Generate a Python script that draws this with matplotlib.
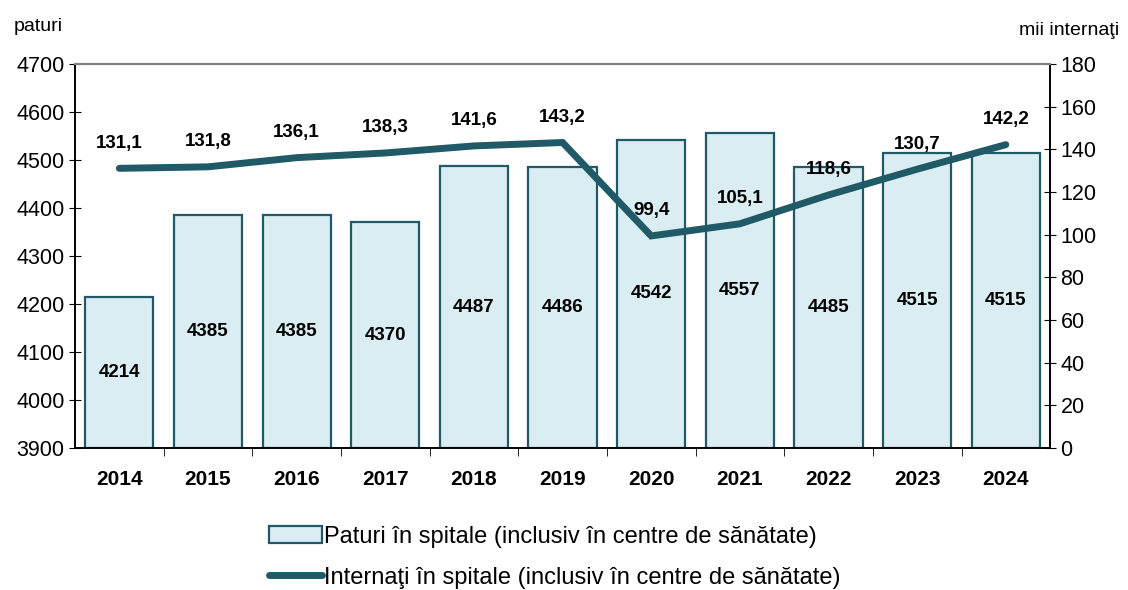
import numpy as np
import matplotlib.pyplot as plt

plt.rcParams['font.family'] = ['Liberation Sans', 'DejaVu Sans']

years = ['2014', '2015', '2016', '2017', '2018', '2019', '2020', '2021', '2022', '2023', '2024']
beds = [4214, 4385, 4385, 4370, 4487, 4486, 4542, 4557, 4485, 4515, 4515]
admitted = [131.1, 131.8, 136.1, 138.3, 141.6, 143.2, 99.4, 105.1, 118.6, 130.7, 142.2]

dark = '#1f5a66'
light = '#daedf3'

fig = plt.figure(figsize=(11.28, 5.9), dpi=100)
ax = fig.add_axes([0.0665, 0.2407, 0.8645, 0.6508])
ax2 = ax.twinx()

x = np.arange(len(years))
bars = ax.bar(x, [b - 3900 for b in beds], bottom=3900, width=0.77, color=light,
              edgecolor=dark, linewidth=1.6, label='Paturi în spitale (inclusiv în centre de sănătate)')
for xi, b in zip(x, beds):
    ax.text(xi, (3900 + b) / 2, str(b), ha='center', va='center', fontsize=13.5, fontweight='bold')

line, = ax2.plot(x, admitted, color=dark, linewidth=5, solid_joinstyle='miter', solid_capstyle='round',
                 label='Internaţi în spitale (inclusiv în centre de sănătate)')
for xi, v in zip(x, admitted):
    ax2.annotate(f'{v:.1f}'.replace('.', ','), (xi, v), xytext=(0, 18), textcoords='offset points',
                 ha='center', va='center', fontsize=13.5, fontweight='bold')

ax.set_xlim(-0.5, len(years) - 0.5)
ax.set_ylim(3900, 4700)
ax.set_yticks(range(3900, 4701, 100))
ax2.set_ylim(0, 180)
ax2.set_yticks(range(0, 181, 20))
ax.set_xticks(x)
ax.set_xticklabels(years, fontweight='bold', fontsize=15)
ax.set_xticks(np.arange(0.5, len(years) - 1, 1), minor=True)
ax.tick_params(axis='x', which='major', length=0, pad=16)
ax.tick_params(axis='x', which='minor', length=6, direction='out')
ax.tick_params(axis='y', direction='inout', length=8, labelsize=15.5)
ax2.tick_params(axis='y', direction='inout', length=8, labelsize=15.5)

for a in (ax, ax2):
    a.spines['top'].set_color('#808080')
    a.spines['top'].set_linewidth(1.5)
    a.spines['left'].set_linewidth(1.2)
    a.spines['right'].set_linewidth(1.2)
    a.spines['bottom'].set_linewidth(1.2)

fig.text(0.012, 0.955, 'paturi', fontsize=14, ha='left', va='center')
fig.text(0.992, 0.948, 'mii internaţi', fontsize=14, ha='right', va='center')

fig.legend(handles=[bars, line], loc='upper center', bbox_to_anchor=(0.492, 0.145), frameon=False,
           fontsize=17, handlelength=2.25, handletextpad=0.1, labelspacing=0.8)

fig.savefig('out.png', dpi=100)
